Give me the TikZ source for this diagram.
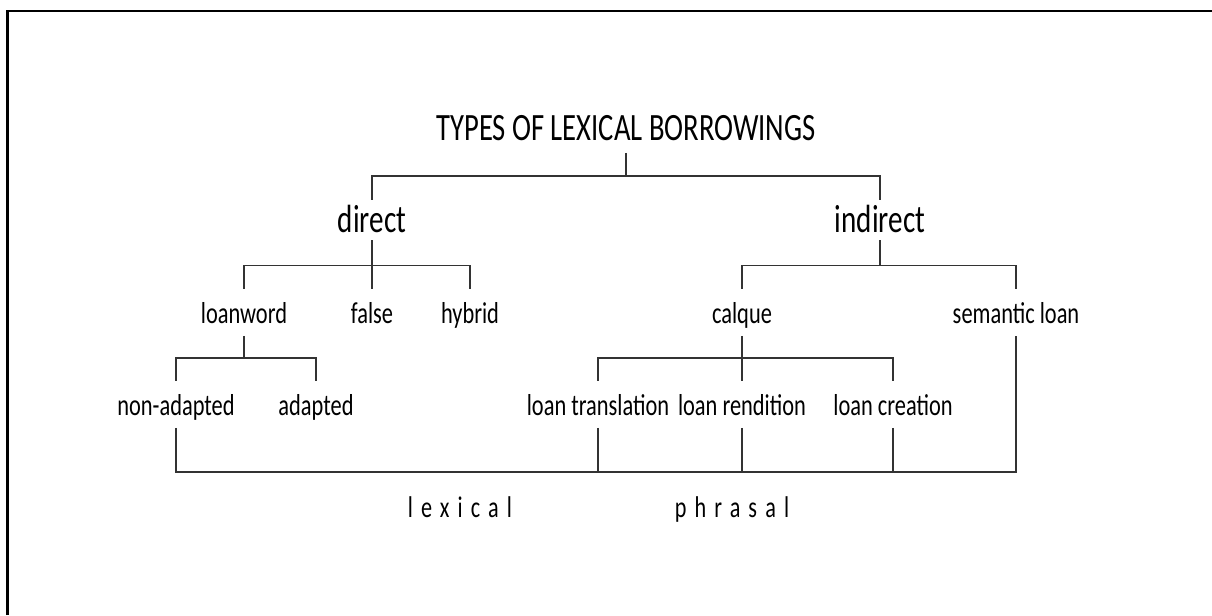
\documentclass[tikz,border=0pt]{standalone}
\usepackage{fontspec}
\setmainfont{Carlito}[FakeStretch=0.74]
\newfontfamily\spacedfont{Carlito}[FakeStretch=0.74,LetterSpace=27]
\usepackage{tikz}

\begin{document}
\begin{tikzpicture}[x=0.75pt,y=0.75pt,yscale=-1,xscale=1,
  branch/.style={draw=black!80, line width=1.15pt},
  txt/.style={inner sep=0pt, anchor=base, text=black},
  toplabel/.style={txt, font=\fontsize{29}{34}\selectfont, text height=22.5pt, text depth=9.5pt},
  midlabel/.style={txt, font=\fontsize{29.5}{35}\selectfont, text height=24pt, text depth=6pt},
  leaf/.style={txt, font=\fontsize{22.7}{27}\selectfont, text height=25.5pt, text depth=9.4pt},
  kind/.style={txt, font=\fontsize{22.5}{27}\selectfont\spacedfont}]
\useasboundingbox (0,0) rectangle (1212,615);

%Frame
\draw [line width=2.2pt] (7.5,615) -- (7.5,11) -- (1212,11) ;

% Text Node
\node [toplabel] (types) at (626,140) {TYPES OF LEXICAL BORROWINGS};
% Text Node
\node [midlabel] (direct) at (372,232) {direct};
\node [midlabel] (indirect) at (880,232) {indirect};
% Text Node
\node [leaf] (loanword) at (244,323) {loanword};
\node [leaf] (false) at (372,323) {false};
\node [leaf] (hybrid) at (470,323) {hybrid};
\node [leaf] (calque) at (742,323) {calque};
\node [leaf] (semloan) at (1016,323) {semantic loan};
% Text Node
\node [leaf] (nonadapted) at (176,415) {non-adapted};
\node [leaf] (adapted) at (316,415) {adapted};
\node [leaf] (loantrans) at (598,415) {loan translation};
\node [leaf] (loanrend) at (742,415) {loan rendition};
\node [leaf] (loancreat) at (893,415) {loan creation};
% Text Node
\node [kind] (lexical) at (460,517) {lexical};
\node [kind] (phrasal) at (732,517) {phrasal};

%Straight Lines
\draw [branch] (types.south) -- ++(0,23) coordinate (t1) ;
\draw [branch] (direct.north) |- (t1) -| (indirect.north) ;
%Straight Lines
\draw [branch] (direct.south) -- ++(0,25) coordinate (d1) ;
\draw [branch] (loanword.north) |- (d1) -| (hybrid.north) ;
\draw [branch] (false.north) -- (d1) ;
%Straight Lines
\draw [branch] (indirect.south) -- ++(0,25) coordinate (i1) ;
\draw [branch] (calque.north) |- (i1) -| (semloan.north) ;
%Straight Lines
\draw [branch] (loanword.south) -- ++(0,22) coordinate (l1) ;
\draw [branch] (nonadapted.north) |- (l1) -| (adapted.north) ;
%Straight Lines
\draw [branch] (calque.south) -- ++(0,22) coordinate (c1) ;
\draw [branch] (loantrans.north) |- (c1) -| (loancreat.north) ;
\draw [branch] (loanrend.north) -- (c1) ;
%Straight Lines
\coordinate (base) at (0,472) ;
\draw [branch] (nonadapted.south) |- (semloan.south |- base) -- (semloan.south) ;
\foreach \n in {loantrans,loanrend,loancreat}
  \draw [branch] (\n.south) -- (\n.south |- base) ;
\end{tikzpicture}
\end{document}
